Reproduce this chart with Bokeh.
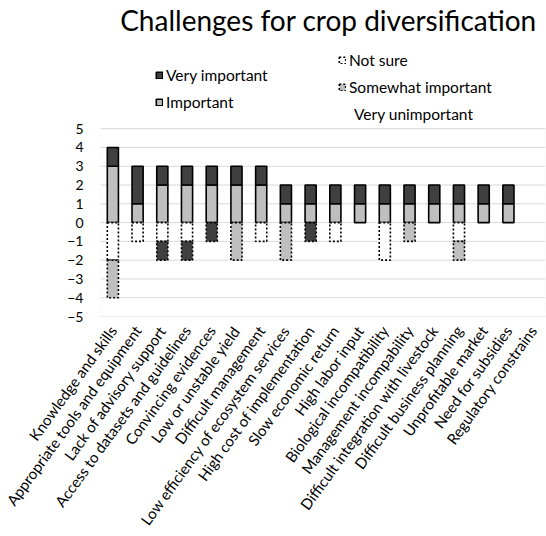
import math

from bokeh.embed import file_html
from bokeh.models import (BoxAnnotation, ColumnDataSource, FactorRange, Label,
                          Legend, LegendItem, Span)
from bokeh.plotting import figure
from bokeh.resources import INLINE

# Challenges (x categories)
challenges = [
    "Knowledge and skills",
    "Appropriate tools and equipment",
    "Lack of advisory support",
    "Access to datasets and guidelines",
    "Convincing evidences",
    "Low or unstable yield",
    "Difficult management",
    "Low efficiency of ecosystem services",
    "High cost of implementation",
    "Slow economic return",
    "High labor input",
    "Biological incompatibility",
    "Management incompability",
    "Difficult integration with livestock",
    "Difficult business planning",
    "Unprofitable market",
    "Need for subsidies",
    "Regulatory constrains",
]

# Counts of answers per challenge
important = [3, 1, 2, 2, 2, 2, 2, 1, 1, 1, 1, 1, 1, 1, 1, 1, 1, 0]
very_important = [1, 2, 1, 1, 1, 1, 1, 1, 1, 1, 1, 1, 1, 1, 1, 1, 1, 0]
not_sure = [2, 1, 1, 1, 0, 0, 1, 0, 0, 1, 0, 2, 0, 0, 1, 0, 0, 0]
somewhat_important = [2, 0, 0, 0, 0, 2, 0, 2, 0, 0, 0, 0, 1, 0, 1, 0, 0, 0]
very_unimportant = [0, 0, 1, 1, 1, 0, 0, 0, 1, 0, 0, 0, 0, 0, 0, 0, 0, 0]

y_ticks = [-5, -4, -3, -2, -1, 0, 1, 2, 3, 4, 5]

FONT = "Lato"
DARK = "#404040"
LIGHT = "#bfbfbf"
GRID = "#d9d9d9"

WIDTH, HEIGHT = 546, 536
BOTTOM = 218            # room for the slanted category names
UNIT_PX = 18.9          # pixels per answer on the value axis
frame_px = HEIGHT - BOTTOM
y_min = y_ticks[0]
# the frame reaches the top of the canvas, leaving room for title and legends
y_max = y_min + frame_px / UNIT_PX

p = figure(
    x_range=FactorRange(*challenges),
    y_range=(y_min, y_max),
    width=WIDTH,
    height=HEIGHT,
    output_backend="svg",
    toolbar_location=None,
    min_border_left=100,
    min_border_right=1,
    min_border_top=0,
    min_border_bottom=BOTTOM,
    background_fill_color="white",
    border_fill_color="white",
    outline_line_color=None,
)
p.title.visible = False

# value grid and plot-area border, limited to the tick span
p.ygrid.grid_line_color = None
p.xgrid.grid_line_color = None
for t in y_ticks:
    p.add_layout(Span(location=t, dimension="width", line_color=GRID, line_width=1, level="underlay"))
p.add_layout(BoxAnnotation(bottom=y_ticks[0], top=y_ticks[-1], fill_alpha=0,
                           line_color=GRID, line_width=1, level="underlay"))


def stacked(layers, sign):
    """Turn per-category counts into bottom/top sources, skipping empty segments."""
    base = [0] * len(challenges)
    out = []
    for counts in layers:
        xs, bots, tops = [], [], []
        for i, c in enumerate(counts):
            if c:
                xs.append(challenges[i])
                bots.append(base[i])
                tops.append(base[i] + sign * c)
            base[i] += sign * c
        out.append(ColumnDataSource(dict(x=xs, bottom=bots, top=tops)))
    return out


W = 0.45
src_imp, src_vimp = stacked([important, very_important], 1)
src_ns, src_swi, src_vu = stacked([not_sure, somewhat_important, very_unimportant], -1)

solid = dict(line_color="black", line_width=1.6)
dotted = dict(line_color="black", line_width=1.6, line_dash="2 2")

r_imp = p.vbar(x="x", bottom="bottom", top="top", width=W, source=src_imp, fill_color=LIGHT, **solid)
r_vimp = p.vbar(x="x", bottom="bottom", top="top", width=W, source=src_vimp, fill_color=DARK, **solid)
r_ns = p.vbar(x="x", bottom="bottom", top="top", width=W, source=src_ns, fill_color="white", **dotted)
r_swi = p.vbar(x="x", bottom="bottom", top="top", width=W, source=src_swi, fill_color=LIGHT, **dotted)
r_vu = p.vbar(x="x", bottom="bottom", top="top", width=W, source=src_vu, fill_color=DARK, **dotted)
# legend entry for "Very unimportant" is shown as text only
r_vu_key = p.vbar(x=[], bottom=[], top=[], width=W, fill_alpha=0, line_alpha=0)

# axes
p.xaxis.major_label_orientation = math.radians(54)
p.xaxis.major_label_text_font = FONT
p.xaxis.major_label_text_font_size = "15px"
p.xaxis.major_label_text_color = "#000000"
p.xaxis.major_label_standoff = 5
p.xaxis.axis_line_color = None
p.xaxis.major_tick_line_color = None
p.xaxis.minor_tick_line_color = None

p.yaxis.ticker = y_ticks
p.yaxis.major_label_text_font = FONT
p.yaxis.major_label_text_font_size = "14px"
p.yaxis.major_label_text_color = "#000000"
p.yaxis.major_label_standoff = 11
p.yaxis.axis_line_color = None
p.yaxis.major_tick_line_color = None
p.yaxis.minor_tick_line_color = None

# title
p.add_layout(Label(
    text="Challenges for crop diversification",
    x=228, y=frame_px - 21, x_units="screen", y_units="screen",
    text_align="center", text_baseline="middle",
    text_font=FONT, text_font_size="28px", text_color="#000000",
))

legend_style = dict(
    background_fill_alpha=0,
    border_line_alpha=0,
    padding=0,
    margin=0,
    glyph_width=8,
    glyph_height=8,
    label_standoff=3,
    label_text_font=FONT,
    label_text_font_size="15.5px",
    label_text_color="#000000",
    label_height=16,
    spacing=9,
)

legends = [
    Legend(items=[LegendItem(label="Very important", renderers=[r_vimp]),
                  LegendItem(label="Important", renderers=[r_imp])],
           location=(55, 205), **legend_style),
    Legend(items=[LegendItem(label="Not sure", renderers=[r_ns]),
                  LegendItem(label="Somewhat important", renderers=[r_swi])],
           location=(238, 220), **legend_style),
    Legend(items=[LegendItem(label="Very unimportant", renderers=[r_vu_key])],
           location=(243, 193), **legend_style),
]
for lg in legends:
    p.add_layout(lg)

open("out.html", "w").write(file_html(p, INLINE))
